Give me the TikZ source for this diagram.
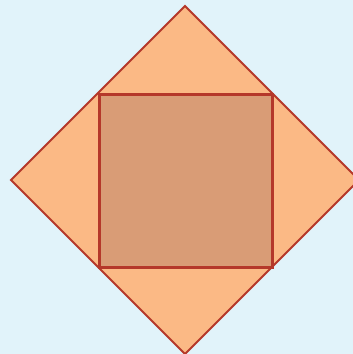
\documentclass[tikz,border=0pt]{standalone}
\usepackage{xcolor}
\definecolor{skybg}{HTML}{E1F3FA}
\definecolor{peach}{HTML}{FBB985}
\definecolor{clay}{HTML}{D99C76}
\definecolor{rust}{HTML}{B5382A}

\begin{document}
\begin{tikzpicture}[
  x=1pt,
  y=-1pt,
  outerdiamond/.style={fill=peach,draw=rust,line width=2pt,line join=miter},
  innersquare/.style={fill=clay,draw=rust,line width=3pt,line join=miter}
]
  % background and frame
  \fill[skybg] (0,0) rectangle (353,354);
  \useasboundingbox (0,0) rectangle (353,354);

  % outer diamond
  \draw[outerdiamond] (185,6) -- (359,180) -- (185,354) -- (11,180) -- cycle;

  % inner square on the edge midpoints
  \draw[innersquare] (99,94) rectangle (272,267);
\end{tikzpicture}
\end{document}
